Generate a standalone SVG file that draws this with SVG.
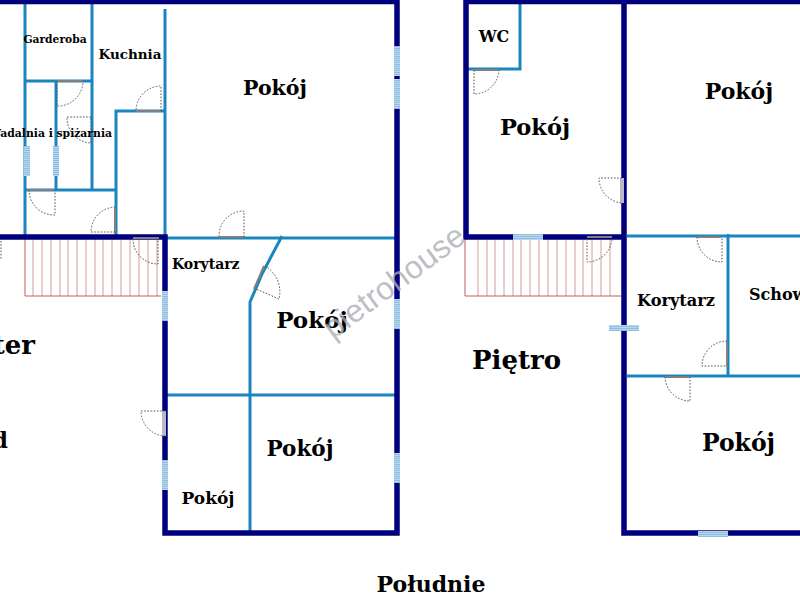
<svg xmlns="http://www.w3.org/2000/svg" width="800" height="600" viewBox="0 0 800 600">
<defs><pattern id="h" width="2" height="2" patternUnits="userSpaceOnUse"><rect width="2" height="2" fill="#b9d7ee"/><rect width="2" height="1" fill="#8fbde2"/></pattern></defs>
<style>
text{font-family:"DejaVu Serif","Liberation Serif",serif;font-weight:bold;fill:#000}
.w{stroke:#00007d;stroke-width:5.5;fill:none}
.i{stroke:#1a86bf;stroke-width:3;fill:none}
.d{stroke:#555;stroke-width:1;stroke-dasharray:1.6 1.6;fill:none}
.l{stroke:#808080;stroke-width:2;fill:none}
.p{stroke:#b9b9c8;stroke-width:4;fill:none}
.s{stroke:#c25a5a;stroke-width:1;fill:none}
.t{stroke:#d49a9a;stroke-width:1;fill:none}
.g{fill:url(#h)}
</style>
<g id="stairs">
<path class="t" d="M33 239V296M42 239V296M51 239V296M60 239V296M68 239V296M77 239V296M86 239V296M95 239V296M103 239V296M112 239V296M121 239V296M130 239V296M139 239V296M148 239V296M157 239V296M478 239V296M487 239V296M495 239V296M504 239V296M513 239V296M521 239V296M530 239V296M539 239V296M548 239V296M557 239V296M566 239V296M575 239V296M583 239V296M592 239V296M601 239V296M610 239V296"/>
<path class="s" d="M25 239V296H161M465 239V296H621"/>
</g>
<g id="inner-walls">
<path class="i" d="M25 3V237M92 3V190M165 9V237M25 81H92M56 81V190M25 190H116M116 237V111H165M165 238H397M282 236L262 274L250 302V532M165 395H397"/>
<path class="i" d="M520 3V69H467M627 236H800M728 234V376M627 376H800"/>
</g>
<g id="outer-walls">
<path class="w" d="M0 1.500H397V533H165V237H0"/>
<path class="w" d="M800 1.500H466V237H624M624 1.500V533H800"/>
</g>
<g id="doors">
<path class="l" d="M57 81H83M136 111H161M27 190H55M115 207V233M219 237H244M133 238H159M264 266L254 289"/>
<path class="d" d="M57 81V106A25 25 0 0 0 83 81M161 111V86A25 25 0 0 0 136 111M67 117H91V143A25 25 0 0 1 67 117M29 190A25 25 0 0 0 55 215V190M115 232H91A25 25 0 0 1 115 207M244 237V211A25 25 0 0 0 219 236M133 239A25 25 0 0 0 158 264V239M265 266A30 30 0 0 1 279 299L256 289M1 241V260"/>
<path class="l" d="M473 70H499M587 237H612M697 237H721M727 341V366M665 377H690"/>
<path class="p" d="M164 411V436M622 178V203"/>
<path class="d" d="M165 411H141A25 25 0 0 0 165 436M474 70V94A25 25 0 0 0 499 70M622 178H599A25 25 0 0 0 622 203M587 239V262A25 25 0 0 0 612 239M697 237A25 25 0 0 0 722 262V237M727 341A25 25 0 0 0 702 366H727M665 377A25 25 0 0 0 690 401V377"/>
</g>
<g id="windows">
<rect class="g" x="394" y="46" width="6" height="30"/><rect class="g" x="394" y="79" width="6" height="30"/>
<rect class="g" x="394" y="299" width="6" height="30"/><rect class="g" x="394" y="453" width="6" height="30"/>
<rect class="g" x="24" y="146" width="6" height="30"/><rect class="g" x="53" y="146" width="6" height="30"/>
<rect class="g" x="162" y="291" width="6" height="30"/><rect class="g" x="162" y="460" width="6" height="30"/>
<rect class="g" x="513" y="234" width="30" height="6"/><rect class="g" x="609" y="325" width="30" height="6"/><rect class="g" x="698" y="531" width="30" height="6"/>
</g>
<g id="labels">
<text x="55" y="43" text-anchor="middle" font-size="10.700">Garderoba</text>
<text x="130" y="59" text-anchor="middle" font-size="13.500">Kuchnia</text>
<text x="112" y="137" text-anchor="end" font-size="10.800">Wadalnia i spiżarnia</text>
<text x="275" y="95" text-anchor="middle" font-size="20.500">Pokój</text>
<text x="172" y="269" font-size="14">Korytarz</text>
<text x="312" y="328" text-anchor="middle" font-size="23">Pokój</text>
<text x="300" y="456" text-anchor="middle" font-size="21.500">Pokój</text>
<text x="208" y="504" text-anchor="middle" font-size="17">Pokój</text>
<text x="35" y="354" text-anchor="end" font-size="26">Parter</text>
<text x="8" y="448" text-anchor="end" font-size="22">Ogród</text>
<text x="494" y="42" text-anchor="middle" font-size="16">WC</text>
<text x="535" y="135" text-anchor="middle" font-size="22.500">Pokój</text>
<text x="739" y="99" text-anchor="middle" font-size="22">Pokój</text>
<text x="676" y="306" text-anchor="middle" font-size="16.200">Korytarz</text>
<text x="749" y="300" font-size="16">Schowek</text>
<text x="738.500" y="451" text-anchor="middle" font-size="23.500">Pokój</text>
<text x="472" y="369" font-size="26">Piętro</text>
<text x="431" y="592" text-anchor="middle" font-size="22">Południe</text>
</g>
<text id="watermark" transform="translate(333 340) rotate(-36.500)" style="font-family:'Liberation Sans',sans-serif;font-weight:normal;fill:#adadb5;fill-opacity:.8" font-size="32">pietrohouse</text>
</svg>
